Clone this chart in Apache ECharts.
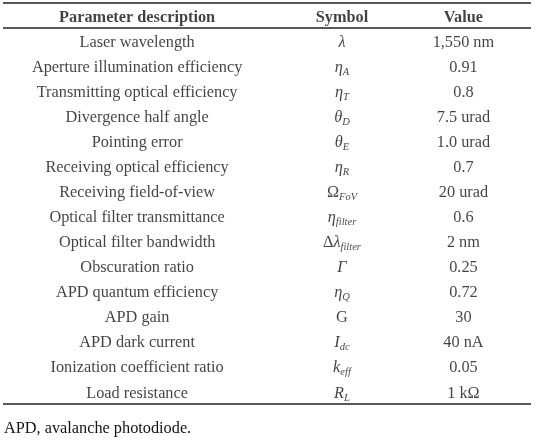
<!DOCTYPE html>
<html><head><meta charset="utf-8">
<script src="https://cdn.jsdelivr.net/npm/echarts@6/dist/echarts.min.js"></script>
<style>html,body{margin:0;padding:0;background:#fff}#c{width:537px;height:444px}</style>
</head><body><div id="c"></div>
<script>
var headers = ['Parameter description', 'Symbol', 'Value'];
var descriptions = ['Laser wavelength','Aperture illumination efficiency','Transmitting optical efficiency','Divergence half angle','Pointing error','Receiving optical efficiency','Receiving field-of-view','Optical filter transmittance','Optical filter bandwidth','Obscuration ratio','APD quantum efficiency','APD gain','APD dark current','Ionization coefficient ratio','Load resistance'];
var symbolBase = ['λ','η','η','θ','θ','η','Ω','η','Δλ','Γ','η','G','I','k','R'];
var symbolSub = ['','A','T','D','E','R','FoV','filter','filter','','Q','','dc','eff','L'];
var values = ['1,550 nm','0.91','0.8','7.5 urad','1.0 urad','0.7','20 urad','0.6','2 nm','0.25','0.72','30','40 nA','0.05','1 kΩ'];
var footnote = 'APD, avalanche photodiode.';

var FONT = '"Liberation Serif", "DejaVu Serif", serif';
var COLOR = '#141213';
var colX = [0.254, 0.642, 0.872];
var upright = {'Ω':1,'Δ':1,'G':1};

function symRich(base, sub) {
  var s = '';
  for (var i = 0; i < base.length; i++) {
    var ch = base[i];
    s += (upright[ch] ? '{u|' : '{i|') + ch + '}';
  }
  if (sub) s += '{s|' + sub + '}';
  return s;
}

function colData(col, texts, rich) {
  var d = [[colX[col], 0, '{h|' + headers[col] + '}']];
  texts.forEach(function (t, i) { d.push([colX[col], i + 1, rich ? t : '{n|' + t + '}']); });
  return d;
}

var FS = 16.3;
var richStyles = {
  h: {fontFamily: FONT, fontSize: FS, fontWeight: 'bold', color: COLOR, lineHeight: 20},
  n: {fontFamily: FONT, fontSize: FS, color: COLOR, lineHeight: 20},
  i: {fontFamily: FONT, fontSize: FS, fontStyle: 'italic', color: COLOR, lineHeight: 20, verticalAlign: 'middle'},
  u: {fontFamily: FONT, fontSize: FS, color: COLOR, lineHeight: 20, verticalAlign: 'middle'},
  s: {fontFamily: FONT, fontSize: 10.5, fontStyle: 'italic', color: COLOR, lineHeight: 10, verticalAlign: 'bottom'}
};

var symTexts = symbolBase.map(function (b, i) { return symRich(b, symbolSub[i]); });

function mkSeries(col, texts, rich, withLines) {
  var s = {
    type: 'scatter', symbolSize: 0, silent: true,
    data: colData(col, texts, rich),
    label: {show: true, position: 'inside', offset: [0, 1.8], formatter: function (p) { return p.data[2]; }, rich: richStyles},
    animation: false
  };
  if (withLines) {
    s.markLine = {
      symbol: 'none', silent: true, animation: false,
      label: {show: false},
      lineStyle: {color: '#231f20', width: 1.5, type: 'solid'},
      data: [{yAxis: -0.5}, {yAxis: 0.5}, {yAxis: values.length + 0.5}]
    };
  }
  return s;
}

var chart = echarts.init(document.getElementById('c'), null, {renderer: 'canvas'});
chart.setOption({
  backgroundColor: '#fff',
  title: {text: footnote, left: 4, top: 421, padding: 0, textStyle: {fontFamily: FONT, fontSize: FS, fontWeight: 'normal', color: COLOR}},
  grid: {left: 3, right: 6, top: 3, bottom: 40},
  xAxis: {type: 'value', min: 0, max: 1, show: false},
  yAxis: {type: 'value', min: -0.5, max: values.length + 0.5, inverse: true, show: false},
  series: [mkSeries(0, descriptions, false, true), mkSeries(1, symTexts, true, false), mkSeries(2, values, false, false)]
});
</script></body></html>
